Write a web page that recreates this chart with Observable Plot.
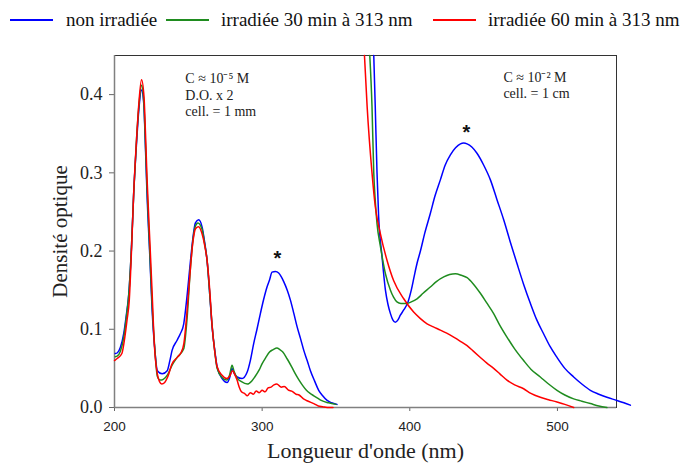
<!DOCTYPE html>
<html><head><meta charset="utf-8">
<script src="https://cdn.jsdelivr.net/npm/d3@7"></script>
<script src="https://cdn.jsdelivr.net/npm/@observablehq/plot@0.6"></script>
<style>
body{margin:0;background:#fff;}
#wrap{position:relative;width:685px;height:464px;overflow:hidden;}
.lg{position:absolute;font-family:"Liberation Serif","Times New Roman",serif;font-size:19px;color:#111;white-space:nowrap;line-height:1;}
.sw{position:absolute;height:0;border-top:2px solid;}
</style></head><body>
<div id="wrap"><div id="chart"></div></div>
<script>
// ---- series ----
const seriesNames = ["non irradiée", "irradiée 30 min à 313 nm", "irradiée 60 min à 313 nm"];
const seriesColors = ["#0000ff", "#1f8c1f", "#ff0000"];

// ---- axis ticks ----
const xTicks = [200, 300, 400, 500];
const yTicks = [0, 0.1, 0.2, 0.3, 0.4];

// ---- non irradiée, 200-350 nm (C ≈ 1e-5 M) ----
const blueLeftX = [200.5,202,204,206.3,208,209.7,211.5,213,215,216.5,218.3,219.8,221,222,224,225.5,227.5,229,232.3,235.7,237.5,239,242.4,244.5,246.9,249,251.5,253,254.8,257,259.3,261,262.7,264.5,266.1,268,269.5,272.9,276.3,278,279.6,281,283,286.4,289.8,292,294.3,296.5,298.8,301,303.3,305,306.7,309,311.2,313,314.6,317,319.2,321.5,323.7,326,328.2,330.5,332.7,335.5,338.3,341,344,347,350.7];
const blueLeftY = [0.069,0.070,0.077,0.095,0.118,0.146,0.205,0.274,0.340,0.381,0.406,0.389,0.330,0.274,0.190,0.124,0.070,0.047,0.043,0.047,0.060,0.073,0.086,0.094,0.107,0.140,0.188,0.215,0.236,0.240,0.231,0.212,0.188,0.145,0.103,0.072,0.052,0.037,0.032,0.038,0.050,0.044,0.039,0.037,0.045,0.060,0.082,0.100,0.120,0.138,0.154,0.163,0.173,0.174,0.172,0.167,0.161,0.150,0.137,0.120,0.103,0.088,0.073,0.060,0.047,0.034,0.022,0.015,0.009,0.006,0.004];

// ---- irradiée 30 min, 200-350 nm ----
const greenLeftX = [200.5,202,204,206.3,208,209.7,211.5,213,215,216.5,218.3,219.8,221,222,224,225.5,227.5,229,231,233,236,239,242.4,246.9,249,251.5,253,254.8,256.5,259.3,261,262.7,264.5,266.1,268,269.5,273,276,278,279.6,281,283,286,290,293,295,298,300,302.5,305,307.5,310,312,314,317,320,322.5,325,327.5,330,332.5,335,337.5,340,345,350];
const greenLeftY = [0.065,0.066,0.072,0.090,0.115,0.145,0.205,0.274,0.345,0.385,0.412,0.392,0.335,0.282,0.195,0.130,0.070,0.040,0.035,0.036,0.042,0.054,0.064,0.075,0.110,0.180,0.212,0.232,0.236,0.228,0.210,0.188,0.145,0.105,0.070,0.050,0.038,0.035,0.042,0.054,0.046,0.038,0.033,0.030,0.034,0.039,0.048,0.056,0.064,0.071,0.074,0.076,0.074,0.071,0.062,0.052,0.043,0.035,0.028,0.022,0.018,0.015,0.012,0.009,0.006,0.004];

// ---- irradiée 60 min, 200-350 nm ----
const redLeftX = [200,202,205,207,208.5,210,211.5,213,215,216.5,218.3,220,221,222,224,225.5,227,229,230.5,232,234,236,239,243,245,247,249,251.5,253,255,257,259.3,261,262.7,264.5,266,268,269.5,273,276,278,280,281.5,283,284.5,286,288,290,292,294,296,298,300,302,304,306,308,310,312,313,315,318,320,323,325,328,330,333,335,338,341,344,348];
const redLeftY = [0.060,0.063,0.069,0.090,0.112,0.137,0.200,0.274,0.345,0.389,0.419,0.397,0.350,0.295,0.210,0.146,0.080,0.043,0.033,0.030,0.032,0.039,0.056,0.065,0.070,0.082,0.120,0.180,0.210,0.229,0.231,0.222,0.208,0.188,0.150,0.107,0.070,0.052,0.041,0.037,0.040,0.047,0.042,0.035,0.026,0.020,0.018,0.015,0.019,0.017,0.021,0.019,0.022,0.020,0.025,0.026,0.029,0.030,0.027,0.026,0.027,0.022,0.021,0.017,0.016,0.011,0.009,0.0065,0.005,0.002,0.001,0,0];

// ---- non irradiée, 370-550 nm (C ≈ 1e-2 M) ----
const blueRightX = [375.6,376.6,377.8,378.9,381.2,383.5,385.2,386.9,388.5,390.2,392,393.6,396,398.8,401,403,405,407.2,410,413.9,417,420.7,424,427.5,431,434.3,436.5,438.8,442,445.5,450,454.6,459,463.6,468,472.6,477,481.7,486,490.7,495,499.7,505,511,516.5,522.3,528,533.5,540.3,545,549.4];
const blueRightY = [0.45,0.385,0.300,0.244,0.193,0.150,0.132,0.120,0.112,0.109,0.112,0.118,0.125,0.135,0.150,0.168,0.185,0.200,0.222,0.248,0.270,0.291,0.310,0.323,0.332,0.337,0.338,0.337,0.333,0.325,0.310,0.291,0.266,0.240,0.212,0.184,0.158,0.133,0.112,0.094,0.078,0.064,0.050,0.039,0.030,0.022,0.017,0.013,0.009,0.006,0.003];

// ---- irradiée 30 min, 370-550 nm ----
const greenRightX = [372.9,374.4,375.6,376.7,377.8,380.1,383.5,386.9,389,391.3,394,398.1,401,404.9,409,413.9,418,423,427,430.9,435,438.8,443,447.8,452,456.8,461,465.8,471,477.1,482,488.4,494,499.7,505,511,516.5,522.3,528,533.5];
const greenRightY = [0.45,0.385,0.300,0.262,0.235,0.206,0.171,0.150,0.141,0.135,0.133,0.133,0.135,0.139,0.146,0.154,0.161,0.167,0.170,0.171,0.169,0.166,0.158,0.146,0.134,0.120,0.105,0.090,0.075,0.060,0.049,0.039,0.030,0.022,0.016,0.011,0.008,0.005,0.002,0];

// ---- irradiée 60 min, 370-550 nm ----
const redRightX = [369.3,371.1,374.4,376.7,380.1,384.6,389.1,395.9,402.6,407,411.7,416,420.7,425,429.7,434,438.8,443,447.8,452,456.8,461,465.8,471,477.1,482,488.4,494,499.7,505,511];
const redRightY = [0.45,0.385,0.300,0.256,0.222,0.188,0.162,0.139,0.122,0.114,0.107,0.103,0.099,0.095,0.090,0.085,0.079,0.072,0.064,0.057,0.050,0.043,0.035,0.029,0.024,0.018,0.013,0.010,0.007,0.004,0];

// ---- annotations ----
const noteLeft = ["C ≈ 10⁻⁵ M", "D.O. x 2", "cell. = 1 mm"];
const noteLeftX = [248, 248, 248];
const noteLeftY = [0.4205, 0.399, 0.378];
const noteRight = ["C ≈ 10⁻² M", "cell. = 1 cm"];
const noteRightX = [463.4, 463.4];
const noteRightY = [0.4218, 0.401];
const starX = [310.4, 438.3];
const starY = [0.190, 0.352];

// ---- build table ----
const segs = [
  [seriesNames[0], "bL", blueLeftX, blueLeftY],
  [seriesNames[1], "gL", greenLeftX, greenLeftY],
  [seriesNames[2], "rL", redLeftX, redLeftY],
  [seriesNames[0], "bR", blueRightX, blueRightY],
  [seriesNames[1], "gR", greenRightX, greenRightY],
  [seriesNames[2], "rR", redRightX, redRightY]
];
const rows = [];
for (const [s, id, xs, ys] of segs) xs.forEach((x, i) => rows.push({x, y: ys[i], series: s, seg: id}));
const notes = noteLeft.map((t, i) => ({t, x: noteLeftX[i], y: noteLeftY[i]}))
  .concat(noteRight.map((t, i) => ({t, x: noteRightX[i], y: noteRightY[i]})));
const stars = starX.map((x, i) => ({x, y: starY[i]}));

const serif = "'Liberation Serif', 'Times New Roman', serif";
const sans = "'Liberation Sans', Arial, sans-serif";

const chart = Plot.plot({
  width: 685, height: 464,
  marginLeft: 114, marginRight: 69, marginTop: 55, marginBottom: 57,
  style: {background: "white", overflow: "visible"},
  x: {domain: [200, 540]},
  y: {domain: [0, 0.45]},
  color: {domain: seriesNames, range: seriesColors},
  marks: [
    Plot.frame({stroke: "#333", strokeWidth: 1}),
    Plot.axisX({ticks: xTicks, tickSize: 4, tickPadding: 10, fontSize: 13.5, fontFamily: sans, stroke: "#666", fill: "#222", label: null}),
    Plot.axisY({ticks: yTicks, tickFormat: d3.format(".1f"), tickSize: 5, tickPadding: 7, fontSize: 18, fontFamily: serif, stroke: "#666", fill: "#222", label: null}),
    Plot.ruleX([200], {stroke: "#808080", strokeWidth: 1.5}),
    Plot.ruleY([0], {stroke: "#808080", strokeWidth: 1.5}),
    Plot.line(rows, {x: "x", y: "y", z: "seg", stroke: "series", strokeWidth: 1.5, curve: "monotone-x"}),
    Plot.text(notes, {x: "x", y: "y", text: "t", textAnchor: "start", fontSize: 14, fontFamily: serif, fill: "#222"}),
    Plot.text(stars, {x: "x", y: "y", text: () => "*", fontSize: 20, fontWeight: "bold", fontFamily: sans, fill: "#111"}),
    Plot.text(["Densité optique"], {frameAnchor: "left", textAnchor: "middle", lineAnchor: "middle", rotate: -90, dx: -54, fontSize: 21, fontFamily: serif, fill: "#222"}),
    Plot.text(["Longueur d'onde (nm)"], {frameAnchor: "bottom", textAnchor: "middle", lineAnchor: "middle", dy: 43, fontSize: 22, fontFamily: serif, fill: "#222"})
  ]
});
document.getElementById("chart").appendChild(chart);

// ---- legend (overlay above plot area) ----
const wrap = document.getElementById("wrap");
const swLeft = [10, 166, 433];
const txLeft = [66, 221, 488];
seriesNames.forEach((n, i) => {
  const sw = document.createElement("div");
  sw.className = "sw";
  sw.style.left = swLeft[i] + "px";
  sw.style.width = "43px";
  sw.style.top = "19px";
  sw.style.borderTopColor = seriesColors[i];
  wrap.appendChild(sw);
  const t = document.createElement("span");
  t.className = "lg";
  t.style.left = txLeft[i] + "px";
  t.style.top = "10px";
  t.textContent = n;
  wrap.appendChild(t);
});
</script>
</body></html>
